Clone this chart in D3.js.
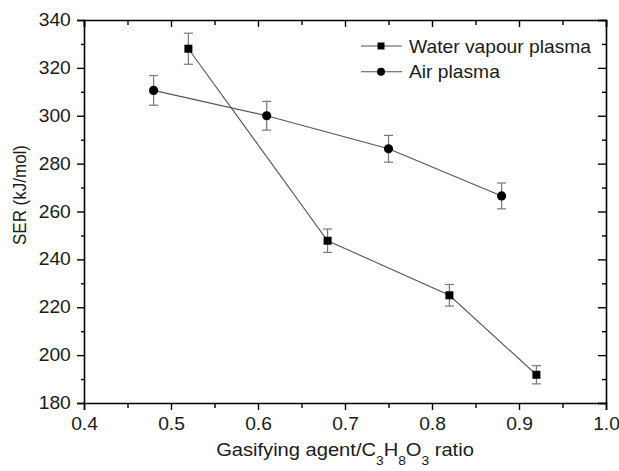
<!DOCTYPE html>
<html>
<head>
<meta charset="utf-8">
<script src="https://cdn.jsdelivr.net/npm/d3@7"></script>
<style>
  html, body { margin: 0; padding: 0; background: #fff; }
  svg { display: block; font-family: "Liberation Sans", Arial, sans-serif; }
</style>
</head>
<body>
<svg id="chart" width="619" height="471"></svg>
<script>
// SER against gasifying-agent ratio for the two plasma types
const ratioWater = [0.52, 0.68, 0.82, 0.92];
const serWater   = [328.0, 247.8, 225.0, 191.8];
const errWater   = [6.5, 4.9, 4.5, 3.8];

const ratioAir = [0.48, 0.61, 0.75, 0.88];
const serAir   = [310.6, 300.0, 286.2, 266.5];
const errAir   = [6.2, 6.0, 5.6, 5.4];

const seriesNames = ["Water vapour plasma", "Air plasma"];
const xTicks = [0.4, 0.5, 0.6, 0.7, 0.8, 0.9, 1.0];
const yTicks = [180, 200, 220, 240, 260, 280, 300, 320, 340];

// text is drawn slightly wide
const SX = 1.1;

const svg = d3.select("#chart");
const m = { left: 84, top: 20, right: 13, bottom: 68 };
const W = 619 - m.left - m.right;
const H = 471 - m.top - m.bottom;

const x = d3.scaleLinear().domain([0.4, 1.0]).range([0, W]);
const y = d3.scaleLinear().domain([180, 340]).range([H, 0]);

const g = svg.append("g").attr("transform", `translate(${m.left},${m.top})`);

const xMinor = d3.range(0.45, 1.0, 0.1);
const yMinor = d3.range(190, 340, 20);

function styleAxis(sel) {
  sel.select(".domain").attr("stroke", "#000").attr("stroke-width", 1.6);
  sel.selectAll(".tick line").attr("stroke", "#000").attr("stroke-width", 1.4);
  sel.selectAll(".tick text").attr("fill", "#1a1a1a").attr("font-size", 17.5)
     .attr("font-family", "'Liberation Sans', Arial, sans-serif")
     .attr("transform", `scale(${SX},1)`);
}

// bottom axis: outward ticks with labels
g.append("g").attr("transform", `translate(0,${H})`)
  .call(d3.axisBottom(x).tickValues(xTicks).tickSize(7).tickPadding(8).tickFormat(d3.format(".1f")))
  .call(styleAxis);
g.append("g").attr("transform", `translate(0,${H})`)
  .call(d3.axisBottom(x).tickValues(xMinor).tickSize(5).tickFormat(""))
  .call(s => s.select(".domain").remove())
  .call(styleAxis);

// left axis
g.append("g")
  .call(d3.axisLeft(y).tickValues(yTicks).tickSize(7).tickPadding(5).tickFormat(d3.format("d")))
  .call(styleAxis);
g.append("g")
  .call(d3.axisLeft(y).tickValues(yMinor).tickSize(3).tickFormat(""))
  .call(s => s.select(".domain").remove())
  .call(styleAxis);

// top axis: inward ticks, no labels
g.append("g")
  .call(d3.axisTop(x).tickValues(xTicks).tickSize(-7).tickFormat(""))
  .call(styleAxis);
g.append("g")
  .call(d3.axisTop(x).tickValues(xMinor).tickSize(-5).tickFormat(""))
  .call(s => s.select(".domain").remove())
  .call(styleAxis);

// right axis: inward ticks, no labels
g.append("g").attr("transform", `translate(${W},0)`)
  .call(d3.axisRight(y).tickValues(yTicks).tickSize(-8).tickFormat(""))
  .call(styleAxis);
g.append("g").attr("transform", `translate(${W},0)`)
  .call(d3.axisRight(y).tickValues(yMinor).tickSize(-4).tickFormat(""))
  .call(s => s.select(".domain").remove())
  .call(styleAxis);

// data series
const series = [
  { name: seriesNames[0], xs: ratioWater, ys: serWater, es: errWater, shape: "square" },
  { name: seriesNames[1], xs: ratioAir,   ys: serAir,   es: errAir,   shape: "circle" }
];

const line = d3.line().x(d => x(d[0])).y(d => y(d[1]));

function drawMarker(sel, shape, cx, cy) {
  if (shape === "square") {
    sel.append("rect").attr("x", cx - 4).attr("y", cy - 4).attr("width", 8).attr("height", 8).attr("fill", "#000");
  } else {
    sel.append("circle").attr("cx", cx).attr("cy", cy).attr("r", 4.6).attr("fill", "#000");
  }
}

series.forEach(s => {
  const pts = s.xs.map((v, i) => [v, s.ys[i], s.es[i]]);
  const sg = g.append("g");
  sg.append("path").datum(pts).attr("d", line)
    .attr("fill", "none").attr("stroke", "#555").attr("stroke-width", 1.1);

  // error bars
  pts.forEach(p => {
    const cx = x(p[0]);
    const y1 = y(p[1] + p[2]), y2 = y(p[1] - p[2]);
    const eb = sg.append("g").attr("stroke", "#777").attr("stroke-width", 1.2);
    eb.append("line").attr("x1", cx).attr("x2", cx).attr("y1", y1).attr("y2", y2);
    eb.append("line").attr("x1", cx - 4.5).attr("x2", cx + 4.5).attr("y1", y1).attr("y2", y1);
    eb.append("line").attr("x1", cx - 4.5).attr("x2", cx + 4.5).attr("y1", y2).attr("y2", y2);
  });
  pts.forEach(p => drawMarker(sg, s.shape, x(p[0]), y(p[1])));
});

// legend
const lg = svg.append("g").attr("transform", "translate(361,46)");
series.forEach((s, i) => {
  const row = lg.append("g").attr("transform", `translate(0,${i * 25.7})`);
  row.append("line").attr("x1", 0).attr("x2", 41).attr("y1", 0).attr("y2", 0)
    .attr("stroke", "#555").attr("stroke-width", 1.1);
  if (s.shape === "square") {
    row.append("rect").attr("x", 16.5).attr("y", -3.5).attr("width", 7).attr("height", 7).attr("fill", "#000");
  } else {
    row.append("circle").attr("cx", 20).attr("cy", 0).attr("r", 4).attr("fill", "#000");
  }
  row.append("text").attr("transform", `translate(48,6.5) scale(${SX},1)`)
    .attr("font-size", 17.5).attr("fill", "#1a1a1a").text(s.name);
});

// axis titles
svg.append("text")
  .attr("transform", `translate(26,195) rotate(-90) scale(1,${SX})`)
  .attr("text-anchor", "middle").attr("font-size", 17).attr("fill", "#1a1a1a")
  .text("SER (kJ/mol)");

const xt = svg.append("text")
  .attr("transform", `translate(${m.left + W / 2},456) scale(${SX},1)`)
  .attr("text-anchor", "middle").attr("font-size", 18.3).attr("fill", "#1a1a1a");
xt.append("tspan").text("Gasifying agent/C");
xt.append("tspan").attr("font-size", 12.5).attr("dy", 9).text("3");
xt.append("tspan").attr("dy", -9).text("H");
xt.append("tspan").attr("font-size", 12.5).attr("dy", 9).text("8");
xt.append("tspan").attr("dy", -9).text("O");
xt.append("tspan").attr("font-size", 12.5).attr("dy", 9).text("3");
xt.append("tspan").attr("dy", -9).text(" ratio");
</script>
</body>
</html>
